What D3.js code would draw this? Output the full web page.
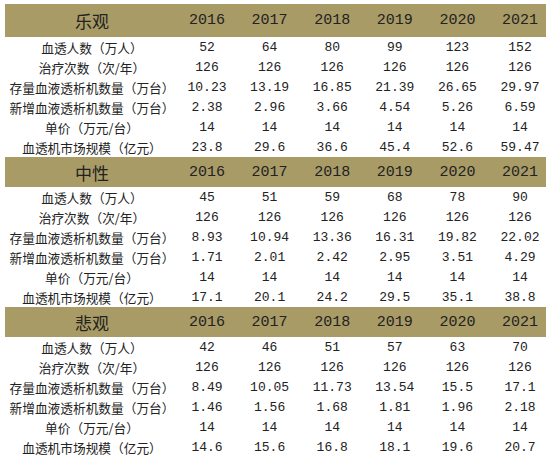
<!DOCTYPE html><html><head><meta charset="utf-8"><script src="https://cdn.jsdelivr.net/npm/d3@7"></script>
<style>body{margin:0;background:#fff}</style></head><body><svg id="c" width="550" height="466"></svg>
<script>
const years=["2016","2017","2018","2019","2020","2021"];
const scenarios=["乐观","中性","悲观"];
const rowLabels=["血透人数（万人）","治疗次数（次/年）","存量血液透析机数量（万台）","新增血液透析机数量（万台）","单价（万元/台）","血透机市场规模（亿元）"];
const optimistic=[["52","64","80","99","123","152"],["126","126","126","126","126","126"],["10.23","13.19","16.85","21.39","26.65","29.97"],["2.38","2.96","3.66","4.54","5.26","6.59"],["14","14","14","14","14","14"],["23.8","29.6","36.6","45.4","52.6","59.47"]];
const neutral=[["45","51","59","68","78","90"],["126","126","126","126","126","126"],["8.93","10.94","13.36","16.31","19.82","22.02"],["1.71","2.01","2.42","2.95","3.51","4.29"],["14","14","14","14","14","14"],["17.1","20.1","24.2","29.5","35.1","38.8"]];
const pessimistic=[["42","46","51","57","63","70"],["126","126","126","126","126","126"],["8.49","10.05","11.73","13.54","15.5","17.1"],["1.46","1.56","1.68","1.81","1.96","2.18"],["14","14","14","14","14","14"],["14.6","15.6","16.8","18.1","19.6","20.7"]];
const tables=[optimistic,neutral,pessimistic];
const svg=d3.select("#c");
const x=d3.scalePoint().domain(years).range([207,520]);
const font="'Noto Sans CJK SC',sans-serif";
const mono="'Liberation Mono','DejaVu Sans Mono',monospace";
const sectionTop=[4,157,307], headH=[33,30,30], rowH=20;
const labelX=92;
tables.forEach((t,s)=>{
  const g=svg.append("g");
  const y0=sectionTop[s];
  g.append("rect").attr("x",5).attr("y",y0).attr("width",541).attr("height",headH[s]).attr("fill","#a99b66");
  const hy=y0+headH[s]/2;
  g.append("text").attr("x",labelX).attr("y",hy).attr("text-anchor","middle").attr("dominant-baseline","central").attr("font-family",font).attr("font-size",17).attr("fill","#222").text(scenarios[s]);
  g.selectAll("text.y").data(years).join("text").attr("x",d=>x(d)).attr("y",hy).attr("text-anchor","middle").attr("dominant-baseline","central").attr("font-family",mono).attr("font-size",15).attr("fill","#222").text(d=>d);
  const ry=y0+headH[s];
  t.forEach((row,i)=>{
    const cy=ry+i*rowH+rowH/2;
    g.append("text").attr("x",labelX).attr("y",cy).attr("text-anchor","middle").attr("dominant-baseline","central").attr("font-family",font).attr("font-size",12.7).attr("fill","#222").text(rowLabels[i]);
    row.forEach((v,j)=>g.append("text").attr("x",x(years[j])).attr("y",cy).attr("text-anchor","middle").attr("dominant-baseline","central").attr("font-family",mono).attr("font-size",13).attr("fill","#222").text(v));
  });
});
</script></body></html>
